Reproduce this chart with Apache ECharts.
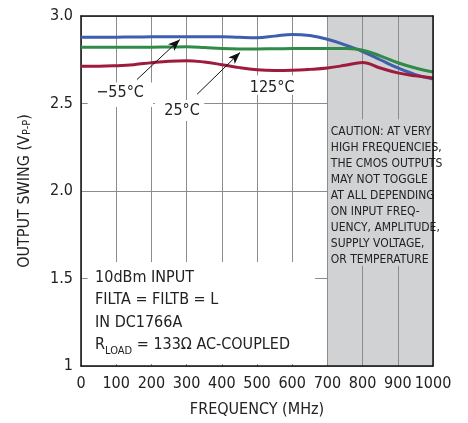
<!DOCTYPE html>
<html><head><meta charset="utf-8">
<script src="https://cdn.jsdelivr.net/npm/echarts@6/dist/echarts.min.js"></script>
<style>html,body{margin:0;padding:0;background:#fff}#c{width:468px;height:423px}</style>
</head><body><div id="c"></div>
<script>
const FONT = "'Liberation Sans Narrow','DejaVu Sans Condensed','Liberation Sans',sans-serif";
const freqs = [0,50,100,150,200,250,300,350,400,450,500,550,600,650,700,750,800,850,900,950,1000];
const minus55 = [2.878,2.878,2.879,2.880,2.881,2.882,2.882,2.882,2.881,2.878,2.876,2.885,2.895,2.888,2.867,2.835,2.797,2.75,2.703,2.665,2.640];
const plus25 = [2.822,2.822,2.822,2.822,2.822,2.823,2.824,2.820,2.814,2.812,2.812,2.813,2.814,2.815,2.815,2.814,2.805,2.772,2.733,2.703,2.680];
const plus125 = [2.713,2.713,2.716,2.722,2.733,2.742,2.745,2.737,2.722,2.705,2.693,2.689,2.690,2.695,2.703,2.718,2.735,2.703,2.675,2.658,2.646];
const xTicks = [0,100,200,300,400,500,600,700,800,900,1000];
const yTicks = [1,1.5,2,2.5,3];
const cautionLines = ['CAUTION: AT VERY','HIGH FREQUENCIES,','THE CMOS OUTPUTS','MAY NOT TOGGLE','AT ALL DEPENDING','ON INPUT FREQ-','UENCY, AMPLITUDE,','SUPPLY VOLTAGE,','OR TEMPERATURE'];
const shade = '#d1d2d4';

const chart = echarts.init(document.getElementById('c'), null, {renderer:'canvas'});
const pair = a => freqs.map((f,i)=>[f,a[i]]);
const frameAxis = {show:true, axisLine:{show:true, lineStyle:{color:'#111', width:1.5}}, axisTick:{show:false}, axisLabel:{show:false}, splitLine:{show:false}};
chart.setOption({
  animation:false,
  textStyle:{fontFamily:FONT},
  grid:{left:81, right:35, top:16, bottom:55, show:false},
  xAxis:[{type:'value', min:0, max:1000, interval:100,
    axisLine:{show:true, onZero:false, lineStyle:{color:'#111', width:1.5}},
    axisTick:{show:false},
    axisLabel:{fontSize:16, color:'#222', margin:10, fontFamily:FONT, formatter:v=>String(v)},
    splitLine:{show:true, lineStyle:{color:'#8c8c8c', width:1}},
    splitArea:{show:true, areaStyle:{color:['rgba(0,0,0,0)','rgba(0,0,0,0)','rgba(0,0,0,0)','rgba(0,0,0,0)','rgba(0,0,0,0)','rgba(0,0,0,0)','rgba(0,0,0,0)',shade,shade,shade]}},
    name:'FREQUENCY (MHz)', nameLocation:'middle', nameGap:36,
    nameTextStyle:{fontSize:16, color:'#222', fontFamily:FONT}
  }, Object.assign({type:'value', min:0, max:1000, position:'top', z:20}, frameAxis, {axisLine:{show:true, onZero:false, lineStyle:{color:'#111', width:1.5}}})],
  yAxis:[{type:'value', min:1, max:3, interval:0.5,
    axisLine:{show:true, lineStyle:{color:'#111', width:1.5}},
    axisTick:{show:false},
    axisLabel:{fontSize:16, color:'#222', margin:8, fontFamily:FONT,
      formatter:v=> v===1 ? '1' : v.toFixed(1)},
    splitLine:{show:true, lineStyle:{color:'#8c8c8c', width:1}},
    name:'{a|OUTPUT SWING (V}{s|P-P}{a|)}', nameLocation:'middle', nameGap:48,
    nameTextStyle:{fontSize:16, color:'#222', fontFamily:FONT,
      rich:{a:{fontSize:16, color:'#222', fontFamily:FONT, verticalAlign:'bottom', lineHeight:20},
            s:{fontSize:11, color:'#222', fontFamily:FONT, verticalAlign:'bottom', lineHeight:14}}}
  }, Object.assign({type:'value', min:1, max:3, position:'right', z:20}, frameAxis, {axisLine:{show:true, onZero:false, lineStyle:{color:'#111', width:1.5}}})],
  series:[
    {type:'line', name:'frame', data:[], silent:true, z:5,
      markArea:{silent:true, data:[
        [{coord:[19,1.012], itemStyle:{color:'#fff'}},{coord:[665,1.595]}],
        [{coord:[704,1.573], itemStyle:{color:shade}, label:{show:true, position:'insideTopLeft', distance:1, padding:[4,0,0,1],
            formatter:cautionLines.join('\n'), fontSize:12, lineHeight:16, color:'#222', fontFamily:FONT}},{coord:[997,2.41]}],
        [{coord:[19,2.48], itemStyle:{color:'#fff'}},{coord:[205,2.62]}],
        [{coord:[210,2.40], itemStyle:{color:'#fff'}},{coord:[350,2.52]}],
        [{coord:[480,2.55], itemStyle:{color:'#fff'}},{coord:[612,2.66]}]
      ]},
      markPoint:{silent:true, symbol:'rect', symbolSize:0, data:[
        {coord:[40,1.57], value:'a', label:{show:true, position:'right', distance:0,
          formatter:'10dBm INPUT\nFILTA = FILTB = L\nIN DC1766A\n{r|R}{s|LOAD}{r| = 133Ω AC-COUPLED}',
          fontSize:16, lineHeight:22.5, color:'#222', fontFamily:FONT, align:'left', verticalAlign:'top',
          rich:{r:{fontSize:16, color:'#222', fontFamily:FONT, lineHeight:22.5},
                s:{fontSize:11, color:'#222', fontFamily:FONT, verticalAlign:'bottom', lineHeight:16}}}},
        {coord:[111,2.56], value:'b', label:{show:true, position:'inside', formatter:'\u221255°C', fontSize:16, color:'#222', fontFamily:FONT}},
        {coord:[287,2.46], value:'c', label:{show:true, position:'inside', formatter:'25°C', fontSize:16, color:'#222', fontFamily:FONT}},
        {coord:[543,2.59], value:'d', label:{show:true, position:'inside', formatter:'125°C', fontSize:16, color:'#222', fontFamily:FONT}}
      ]}
    },
    {type:'line', name:'-55°C', data:pair(minus55), smooth:0.4, showSymbol:false, z:10,
      lineStyle:{color:'#3e5eae', width:3}},
    {type:'line', name:'25°C', data:pair(plus25), smooth:0.4, showSymbol:false, z:10,
      lineStyle:{color:'#2f8b47', width:3}},
    {type:'line', name:'125°C', data:pair(plus125), smooth:0.4, showSymbol:false, z:10,
      lineStyle:{color:'#9e1b3c', width:3},
      markLine:{silent:true, symbol:['none','arrow'], symbolSize:[7,12], label:{show:false},
        lineStyle:{color:'#111', width:1, type:'solid'}, z:12, data:[
          [{coord:[159,2.637]},{coord:[281,2.866]}],
          [{coord:[330,2.553]},{coord:[452,2.792]}]
        ]}}
  ]
});
</script></body></html>
